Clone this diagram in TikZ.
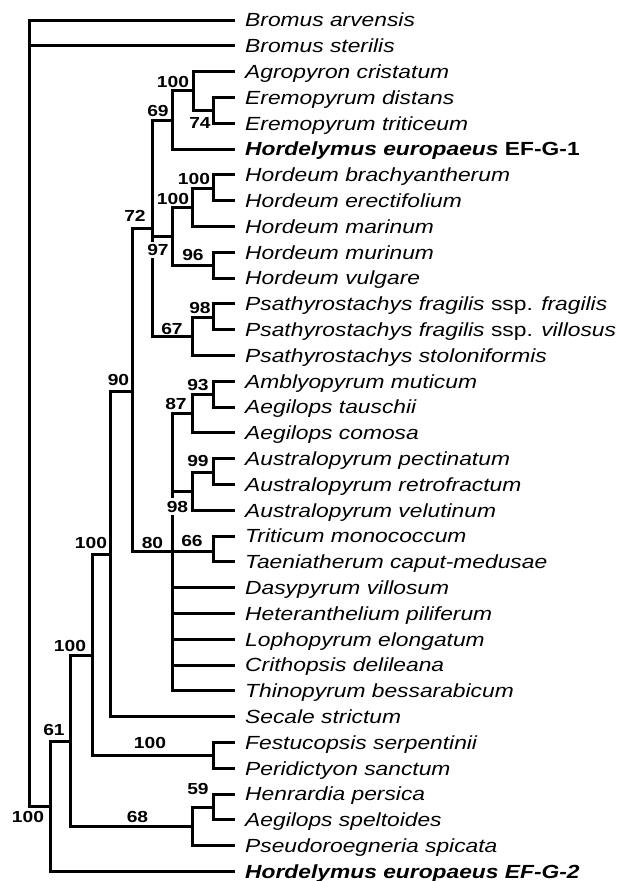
\documentclass[tikz,border=0pt]{standalone}
\usepackage{fontspec}
\setmainfont[FakeStretch=1.2]{Liberation Sans}
\usetikzlibrary{positioning}

\tikzset{
  taxon/.style={anchor=west, inner xsep=12pt, inner ysep=0pt,
    text height=13.6pt, text depth=0pt, font=\fontsize{19}{22}\selectfont},
  boot/.style={font=\fontsize{16}{19}\selectfont\bfseries, inner sep=1pt},
  bootw/.style={boot, fill=white, inner sep=2.5pt},
  branch/.style={line width=3pt, line cap=rect},
}

\begin{document}
\begin{tikzpicture}[x=1pt, y=-1pt]
  \useasboundingbox (0,0) rectangle (628,881);

  % taxa, top to bottom
  \foreach \name [count=\i from 0] in {
    {\textit{Bromus arvensis}},
    {\textit{Bromus sterilis}},
    {\textit{Agropyron cristatum}},
    {\textit{Eremopyrum distans}},
    {\textit{Eremopyrum triticeum}},
    {\textbf{\textit{Hordelymus europaeus} EF-G-1}},
    {\textit{Hordeum brachyantherum}},
    {\textit{Hordeum erectifolium}},
    {\textit{Hordeum marinum}},
    {\textit{Hordeum murinum}},
    {\textit{Hordeum vulgare}},
    {\textit{Psathyrostachys fragilis} ssp. \textit{fragilis}},
    {\textit{Psathyrostachys fragilis} ssp. \textit{villosus}},
    {\textit{Psathyrostachys stoloniformis}},
    {\textit{Amblyopyrum muticum}},
    {\textit{Aegilops tauschii}},
    {\textit{Aegilops comosa}},
    {\textit{Australopyrum pectinatum}},
    {\textit{Australopyrum retrofractum}},
    {\textit{Australopyrum velutinum}},
    {\textit{Triticum monococcum}},
    {\textit{Taeniatherum caput-medusae}},
    {\textit{Dasypyrum villosum}},
    {\textit{Heteranthelium piliferum}},
    {\textit{Lophopyrum elongatum}},
    {\textit{Crithopsis delileana}},
    {\textit{Thinopyrum bessarabicum}},
    {\textit{Secale strictum}},
    {\textit{Festucopsis serpentinii}},
    {\textit{Peridictyon sanctum}},
    {\textit{Henrardia persica}},
    {\textit{Aegilops speltoides}},
    {\textit{Pseudoroegneria spicata}},
    {\textbf{\textit{Hordelymus europaeus EF-G-2}}}}
    \node[taxon] (t\i) at (233, 20+25.8*\i) {\name};

  % internal nodes
  \coordinate (root)   at (29, 806);
  \coordinate (ingrp)  at (50, 806);
  \coordinate (n61)    at (70, 741);
  \coordinate (nsec)   at (92, 655);
  \coordinate (nsal)   at (110, 554);
  \coordinate (n90)    at (132, 391);
  \coordinate (n72)    at (152, 228);
  \coordinate (n69)    at (172, 120);
  \coordinate (nagr)   at (193, 90.5);
  \coordinate (n74)    at (213, 110);
  \coordinate (n97)    at (172, 236);
  \coordinate (nhor)   at (192, 207);
  \coordinate (nbra)   at (213, 188);
  \coordinate (n96)    at (213, 265);
  \coordinate (n67)    at (192, 336);
  \coordinate (npsa)   at (213, 317);
  \coordinate (n80)    at (172, 551);
  \coordinate (n87)    at (192, 413.5);
  \coordinate (n93)    at (213, 394);
  \coordinate (naus)   at (192, 491);
  \coordinate (n99)    at (213, 472);
  \coordinate (n66)    at (213, 551);
  \coordinate (nfes)   at (213, 755.5);
  \coordinate (n68)    at (192, 826.6);
  \coordinate (n59)    at (213, 807.5);

  % branches
  \begin{scope}[branch]
    \draw (root) |- (t0.west);
    \draw (root) |- (t1.west);
    \draw (root) -- (ingrp);
    \draw (ingrp) |- (n61);
    \draw (ingrp) |- (t33.west);
    \draw (n61) |- (nsec);
    \draw (n61) |- (n68);
    \draw (nsec) |- (nsal);
    \draw (nsec) |- (nfes);
    \draw (nsal) |- (n90);
    \draw (nsal) |- (t27.west);
    \draw (n90) |- (n72);
    \draw (n90) |- (n80);
    \draw (n72) |- (n69);
    \draw (n72) |- (n97);
    \draw (n72) |- (n67);
    \draw (n69) |- (nagr);
    \draw (n69) |- (t5.west);
    \draw (nagr) |- (t2.west);
    \draw (nagr) |- (n74);
    \draw (n74) |- (t3.west);
    \draw (n74) |- (t4.west);
    \draw (n97) |- (nhor);
    \draw (n97) |- (n96);
    \draw (nhor) |- (nbra);
    \draw (nhor) |- (t8.west);
    \draw (nbra) |- (t6.west);
    \draw (nbra) |- (t7.west);
    \draw (n96) |- (t9.west);
    \draw (n96) |- (t10.west);
    \draw (n67) |- (npsa);
    \draw (n67) |- (t13.west);
    \draw (npsa) |- (t11.west);
    \draw (npsa) |- (t12.west);
    \draw (n80) |- (n87);
    \draw (n80) |- (naus);
    \draw (n80) -- (n66);
    \foreach \k in {22,...,26}
      \draw (n80) |- (t\k.west);
    \draw (n87) |- (n93);
    \draw (n87) |- (t16.west);
    \draw (n93) |- (t14.west);
    \draw (n93) |- (t15.west);
    \draw (naus) |- (n99);
    \draw (naus) |- (t19.west);
    \draw (n99) |- (t17.west);
    \draw (n99) |- (t18.west);
    \draw (n66) |- (t20.west);
    \draw (n66) |- (t21.west);
    \draw (nfes) |- (t28.west);
    \draw (nfes) |- (t29.west);
    \draw (n68) |- (n59);
    \draw (n68) |- (t32.west);
    \draw (n59) |- (t30.west);
    \draw (n59) |- (t31.west);
  \end{scope}

  % bootstrap values
  \node[boot] (bagr) at (173, 82)    {100};
  \node[boot] (b74)  at (200, 123)   {74};
  \node[boot] (b69)  at (158, 111)   {69};
  \node[boot] (bbra) at (194, 178.5) {100};
  \node[boot] (bhor) at (173, 198.5) {100};
  \node[boot] (b72)  at (135, 215.5) {72};
  \node[bootw] (b97) at (158, 250)   {97};
  \node[boot] (b96)  at (193, 255)   {96};
  \node[boot] (bpsa) at (200, 307.5) {98};
  \node[boot] (b67)  at (172, 328.5) {67};
  \node[boot] (b90)  at (118.5, 380) {90};
  \node[boot] (b93)  at (198, 384.5) {93};
  \node[boot] (b87)  at (176, 404)   {87};
  \node[boot] (b99)  at (198, 461)   {99};
  \node[bootw] (baus) at (177.5, 506.5) {98};
  \node[boot] (bsal) at (91, 543)    {100};
  \node[boot] (b80)  at (152.5, 542.5) {80};
  \node[boot] (b66)  at (192, 541)   {66};
  \node[boot] (bsec) at (70, 646)    {100};
  \node[boot] (bfes) at (150, 743)   {100};
  \node[boot] (b61)  at (54, 730)    {61};
  \node[boot] (b59)  at (198, 788.5) {59};
  \node[boot] (b68)  at (137.5, 816.5) {68};
  \node[boot] (bing) at (28, 816.5)  {100};
\end{tikzpicture}
\end{document}
